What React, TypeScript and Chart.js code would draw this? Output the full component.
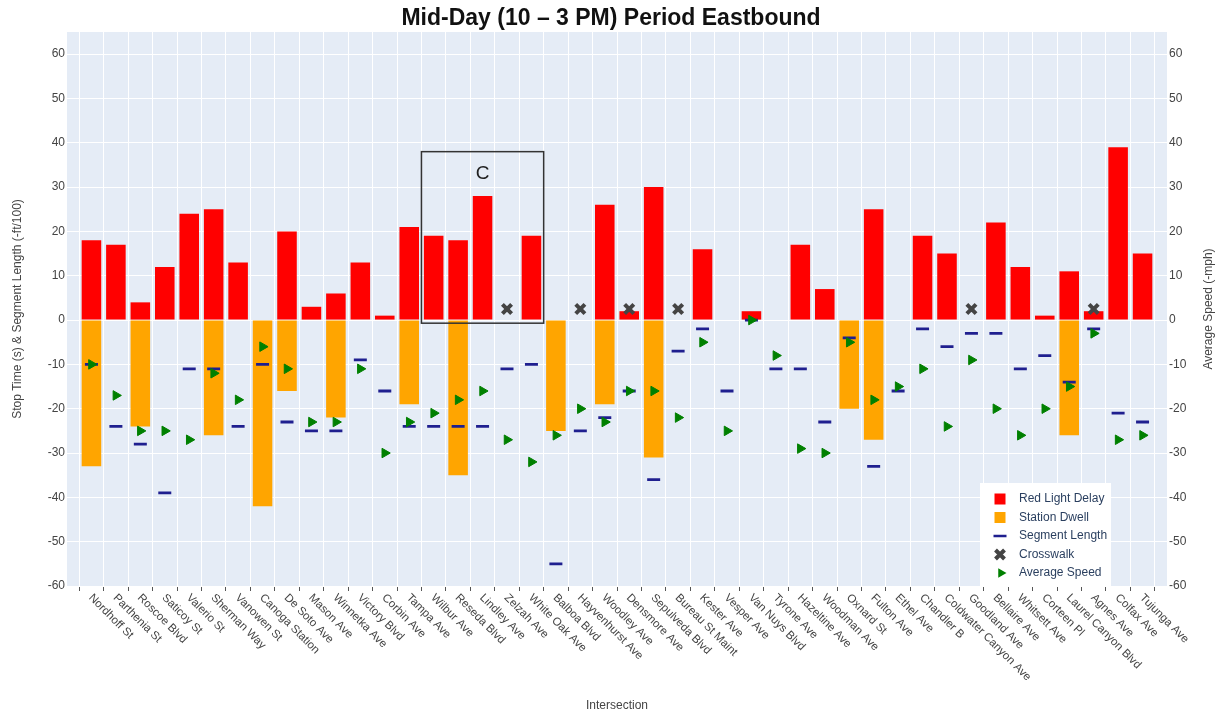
import React, { useEffect, useRef } from 'react';
import { Chart, registerables } from 'chart.js';

Chart.register(...registerables);

const TITLE = 'Mid-Day (10 – 3 PM) Period Eastbound';
const X_TITLE = 'Intersection';
const Y_TITLE = 'Stop Time (s) & Segment Length (-ft/100)';
const Y2_TITLE = 'Average Speed (-mph)';

const INTERSECTIONS = [
  'Nordhoff St', 'Parthenia St', 'Roscoe Blvd', 'Saticoy St', 'Valerio St', 'Sherman Way',
  'Vanowen St', 'Canoga Station', 'De Soto Ave', 'Mason Ave', 'Winnetka Ave', 'Victory Blvd',
  'Corbin Ave', 'Tampa Ave', 'Wilbur Ave', 'Reseda Blvd', 'Lindley Ave', 'Zelzah Ave',
  'White Oak Ave', 'Balboa Blvd', 'Hayvenhurst Ave', 'Woodley Ave', 'Densmore Ave',
  'Sepulveda Blvd', 'Bureau St Maint', 'Kester Ave', 'Vesper Ave', 'Van Nuys Blvd',
  'Tyrone Ave', 'Hazeltine Ave', 'Woodman Ave', 'Oxnard St', 'Fulton Ave', 'Ethel Ave',
  'Chandler B', 'Coldwater Canyon Ave', 'Goodland Ave', 'Bellaire Ave', 'Whitsett Ave',
  'Corteen Pl', 'Laurel Canyon Blvd', 'Agnes Ave', 'Colfax Ave', 'Tujunga Ave',
];

const RED_LIGHT_DELAY = [
  18, 17, 4, 12, 24, 25, 13, 0, 20, 3, 6, 13, 1, 21, 19, 18, 28, 0, 19, 0, 0, 26,
  2, 30, 0, 16, 0, 2, 0, 17, 7, 0, 25, 0, 19, 15, 0, 22, 12, 1, 11, 2, 39, 15,
];

const STATION_DWELL = [
  -33, 0, -24, 0, 0, -26, 0, -42, -16, 0, -22, 0, 0, -19, 0, -35, 0, 0, 0, -25, 0, -19,
  0, -31, 0, 0, 0, 0, 0, 0, 0, -20, -27, 0, 0, 0, 0, 0, 0, 0, -26, 0, 0, 0,
];

const SEGMENT_LENGTH = [
  -10, -24, -28, -39, -11, -11, -24, -10, -23, -25, -25, -9, -16, -24, -24, -24, -24, -11,
  -10, -55, -25, -22, -16, -36, -7, -2, -16, 0, -11, -11, -23, -4, -33, -16, -2, -6, -3,
  -3, -11, -8, -14, -2, -21, -23,
];

const CROSSWALK = [
  null, null, null, null, null, null, null, null, null, null, null, null, null, null, null,
  null, null, 2.5, null, null, 2.5, null, 2.5, null, 2.5, null, null, null, null, null,
  null, null, null, null, null, null, 2.5, null, null, null, null, 2.5, null, null,
];

const AVERAGE_SPEED = [
  -10, -17, -25, -25, -27, -12, -18, -6, -11, -23, -23, -11, -30, -23, -21, -18, -16, -27,
  -32, -26, -20, -23, -16, -16, -22, -5, -25, 0, -8, -29, -30, -5, -18, -15, -11, -24, -9,
  -20, -26, -20, -15, -3, -27, -26,
];

const Y_TICKS = [-60, -50, -40, -30, -20, -10, 0, 10, 20, 30, 40, 50, 60];
const Y_MIN = -60;
const Y_MAX = 65;

// highlighted group "C": from boundary before Wilbur Ave to boundary after White Oak Ave
const BOX_LABEL = 'C';
const BOX_FROM = 13.5;
const BOX_TO = 18.5;
const BOX_TOP = 38;
const BOX_BOTTOM = -0.7;
const BOX_LABEL_AT = 16;
const BOX_LABEL_Y = 33;

const FONT = '"Liberation Sans", Arial, Helvetica, sans-serif';
const RED = '#ff0000';
const ORANGE = '#ffa500';
const NAVY = '#1f1f8f';
const XCOLOR = '#444444';
const GREEN = '#008000';

const pad = (arr: (number | null)[]) => [null, ...arr, null];

function drawTriangleRight(ctx: CanvasRenderingContext2D, x: number, y: number, r: number) {
  ctx.beginPath();
  ctx.moveTo(x + r, y);
  ctx.lineTo(x - r * 0.5, y - r * 0.866);
  ctx.lineTo(x - r * 0.5, y + r * 0.866);
  ctx.closePath();
  ctx.fill();
}

const customDraw = {
  id: 'customDraw',
  beforeDraw(chart: any) {
    const { ctx, chartArea: a } = chart;
    ctx.save();
    ctx.fillStyle = '#e5ecf6';
    ctx.fillRect(a.left, a.top, a.right - a.left, a.bottom - a.top);
    ctx.restore();
  },
  afterDraw(chart: any) {
    const { ctx, chartArea: a, scales } = chart;
    const xs = scales.x;
    const ys = scales.y;
    const W = chart.width;
    ctx.save();

    // title
    ctx.fillStyle = '#111';
    ctx.font = `bold 23px ${FONT}`;
    ctx.textAlign = 'center';
    ctx.textBaseline = 'middle';
    ctx.fillText(TITLE, 611, 19);

    // x tick labels (rotated +45°, starting at the category)
    ctx.font = `11.5px ${FONT}`;
    ctx.fillStyle = '#444';
    ctx.textAlign = 'left';
    ctx.textBaseline = 'middle';
    INTERSECTIONS.forEach((name, i) => {
      const px = xs.getPixelForValue(i + 1);
      ctx.save();
      ctx.translate(px - 1, a.bottom + 10);
      ctx.rotate(Math.PI / 4);
      ctx.fillText(name, 0, 0);
      ctx.restore();
    });

    // axis titles
    ctx.font = `12px ${FONT}`;
    ctx.textAlign = 'center';
    ctx.fillText(X_TITLE, (a.left + a.right) / 2, 706);
    const midY = (a.top + a.bottom) / 2;
    ctx.save();
    ctx.translate(18, midY);
    ctx.rotate(-Math.PI / 2);
    ctx.fillText(Y_TITLE, 0, 0);
    ctx.restore();
    ctx.save();
    ctx.translate(W - 13, midY);
    ctx.rotate(-Math.PI / 2);
    ctx.fillText(Y2_TITLE, 0, 0);
    ctx.restore();

    // highlight box
    const bx1 = xs.getPixelForValue(BOX_FROM + 1);
    const bx2 = xs.getPixelForValue(BOX_TO + 1);
    const by1 = ys.getPixelForValue(BOX_TOP);
    const by2 = ys.getPixelForValue(BOX_BOTTOM);
    ctx.strokeStyle = '#333';
    ctx.lineWidth = 1.5;
    ctx.strokeRect(bx1, by1, bx2 - bx1, by2 - by1);
    ctx.fillStyle = '#222';
    ctx.font = `19px ${FONT}`;
    ctx.textBaseline = 'middle';
    ctx.fillText(BOX_LABEL, xs.getPixelForValue(BOX_LABEL_AT + 1), ys.getPixelForValue(BOX_LABEL_Y));

    // legend
    const lw = 131;
    const lh = 103;
    const lx = a.right - 56 - lw;
    const ly = a.bottom - lh;
    ctx.fillStyle = '#ffffff';
    ctx.fillRect(lx, ly, lw, lh);
    const items = ['Red Light Delay', 'Station Dwell', 'Segment Length', 'Crosswalk', 'Average Speed'];
    const sx = lx + 20;
    ctx.font = `12px ${FONT}`;
    ctx.textAlign = 'left';
    items.forEach((t, i) => {
      const cy = ly + 16 + i * 18.5;
      if (i === 0 || i === 1) {
        ctx.fillStyle = i === 0 ? RED : ORANGE;
        ctx.fillRect(sx - 5.5, cy - 5.5, 11, 11);
      } else if (i === 2) {
        ctx.strokeStyle = NAVY;
        ctx.lineWidth = 2.5;
        ctx.beginPath();
        ctx.moveTo(sx - 6.5, cy);
        ctx.lineTo(sx + 6.5, cy);
        ctx.stroke();
      } else if (i === 3) {
        ctx.strokeStyle = XCOLOR;
        ctx.lineWidth = 4;
        ctx.beginPath();
        ctx.moveTo(sx - 4.5, cy - 4.5);
        ctx.lineTo(sx + 4.5, cy + 4.5);
        ctx.moveTo(sx + 4.5, cy - 4.5);
        ctx.lineTo(sx - 4.5, cy + 4.5);
        ctx.stroke();
      } else {
        ctx.fillStyle = GREEN;
        drawTriangleRight(ctx, sx + 1, cy, 5.5);
      }
      ctx.fillStyle = '#2a3f5f';
      ctx.fillText(t, lx + 39, cy);
    });

    ctx.restore();
  },
};

export default function App() {
  const ref = useRef<HTMLCanvasElement | null>(null);

  useEffect(() => {
    if (!ref.current) return;
    const labels = ['', ...INTERSECTIONS, ''];
    const yTicks = (s: any) => {
      s.ticks = Y_TICKS.map((v) => ({ value: v }));
    };
    const tickFont = { family: FONT, size: 12 };
    const chart = new Chart(ref.current, {
      type: 'bar',
      data: {
        labels,
        datasets: [
          {
            type: 'line',
            label: 'Average Speed',
            data: pad(AVERAGE_SPEED),
            showLine: false,
            pointStyle: 'triangle',
            pointRotation: 90,
            pointRadius: 5.5,
            pointBackgroundColor: GREEN,
            pointBorderColor: GREEN,
            pointBorderWidth: 1,
            yAxisID: 'y2',
            order: 1,
          },
          {
            type: 'line',
            label: 'Crosswalk',
            data: pad(CROSSWALK),
            showLine: false,
            pointStyle: 'crossRot',
            pointRadius: 6.5,
            pointBorderColor: XCOLOR,
            pointBorderWidth: 4,
            yAxisID: 'y',
            order: 2,
          },
          {
            type: 'line',
            label: 'Segment Length',
            data: pad(SEGMENT_LENGTH),
            showLine: false,
            pointStyle: 'line',
            pointRadius: 6.5,
            pointBorderColor: NAVY,
            pointBorderWidth: 2.8,
            yAxisID: 'y',
            order: 3,
          },
          {
            type: 'bar',
            label: 'Red Light Delay',
            data: pad(RED_LIGHT_DELAY),
            backgroundColor: RED,
            grouped: false,
            categoryPercentage: 1,
            barPercentage: 0.8,
            yAxisID: 'y',
            order: 5,
          },
          {
            type: 'bar',
            label: 'Station Dwell',
            data: pad(STATION_DWELL),
            backgroundColor: ORANGE,
            grouped: false,
            categoryPercentage: 1,
            barPercentage: 0.8,
            yAxisID: 'y',
            order: 6,
          },
        ] as any,
      },
      options: {
        animation: false,
        responsive: true,
        maintainAspectRatio: false,
        events: [],
        layout: { padding: { top: 32, left: 0, right: 0, bottom: 0 } },
        plugins: {
          legend: { display: false },
          tooltip: { enabled: false },
          title: { display: false },
        },
        scales: {
          x: {
            type: 'category',
            offset: false,
            grid: {
              offset: true,
              color: '#ffffff',
              lineWidth: 1,
              drawTicks: true,
              tickLength: 5,
              tickColor: '#555555',
            },
            border: { display: false },
            ticks: { display: false, autoSkip: false },
            afterFit: (s: any) => {
              s.height = 130;
            },
          },
          y: {
            type: 'linear',
            position: 'left',
            min: Y_MIN,
            max: Y_MAX,
            grid: { color: '#ffffff', lineWidth: 1, drawTicks: false },
            border: { display: false },
            ticks: { color: '#444', font: tickFont, padding: 2 },
            afterBuildTicks: yTicks,
            afterFit: (s: any) => {
              s.width = 67;
            },
          },
          y2: {
            type: 'linear',
            position: 'right',
            min: Y_MIN,
            max: Y_MAX,
            grid: { display: false, drawTicks: false },
            border: { display: false },
            ticks: { color: '#444', font: tickFont, padding: 2 },
            afterBuildTicks: yTicks,
            afterFit: (s: any) => {
              s.width = 55;
            },
          },
        },
      } as any,
      plugins: [customDraw],
    });
    return () => chart.destroy();
  }, []);

  return (
    <div style={{ position: 'fixed', left: 0, top: 0, width: 1222, height: 716, background: '#fff' }}>
      <canvas ref={ref} />
    </div>
  );
}
